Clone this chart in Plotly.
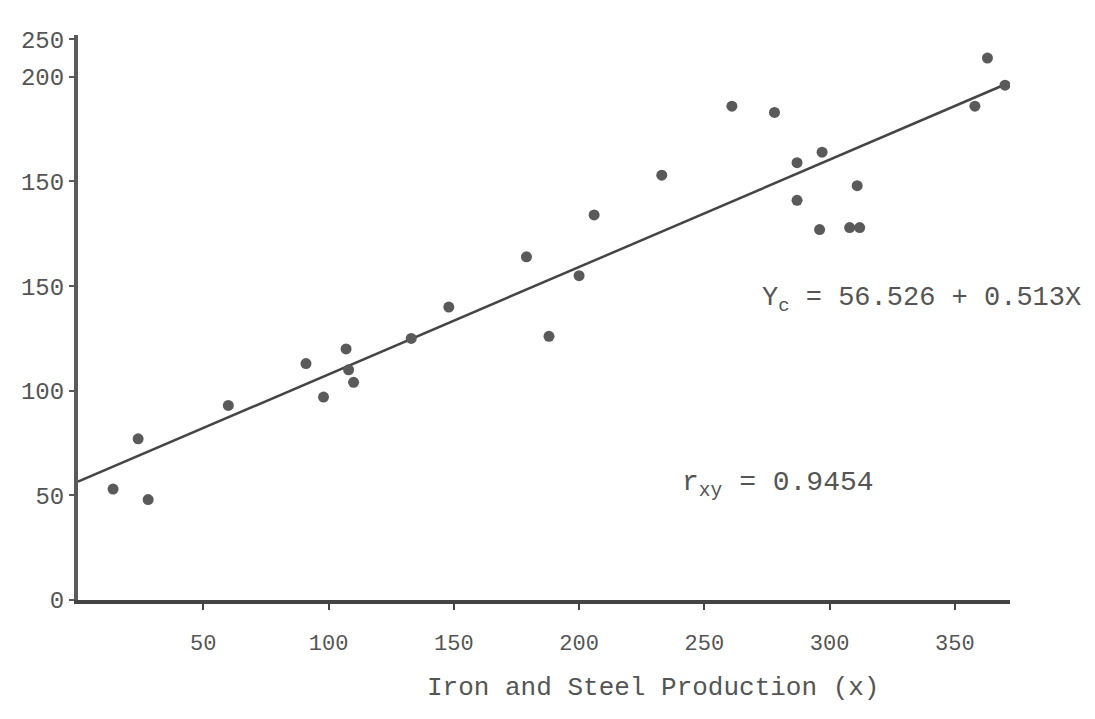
import plotly.graph_objects as go

# Data
x_prod = [14, 24, 28, 60, 91, 98, 107, 108, 110, 133, 148, 179, 188, 200, 206,
          233, 261, 278, 287, 287, 297, 296, 308, 312, 311, 358, 363, 370]
y_vals = [53, 77, 48, 93, 113, 97, 120, 110, 104, 125, 140, 164, 126, 155, 184,
          203, 236, 233, 209, 191, 214, 177, 178, 178, 198, 236, 259, 246]

intercept = 56.526
slope = 0.513
line_x = [0, 370]
line_y = [intercept + slope * v for v in line_x]

x_tickvals = [50, 100, 150, 200, 250, 300, 350]
x_ticktext = ["50", "100", "150", "200", "250", "300", "350"]
y_tickvals = [0, 50, 100, 150, 200, 250, 268]
y_ticktext = ["0", "50", "100", "150", "150", "200", "250"]

MONO = "Liberation Mono, DejaVu Sans Mono, monospace"
GRAY = "#555555"

fig = go.Figure()
fig.add_trace(go.Scatter(x=line_x, y=line_y, mode="lines",
                         line=dict(color="#454545", width=2.5),
                         showlegend=False, hoverinfo="skip"))
fig.add_trace(go.Scatter(x=x_prod, y=y_vals, mode="markers",
                         marker=dict(color="#5a5a5a", size=11),
                         showlegend=False))

fig.update_layout(
    width=1095, height=719,
    margin=dict(l=78, r=85, t=35, b=119),
    paper_bgcolor="white", plot_bgcolor="white",
    font=dict(family=MONO, color=GRAY),
    xaxis=dict(range=[0, 372], showgrid=False, zeroline=False,
               showline=True, linecolor="#444444", linewidth=4,
               ticks="outside", ticklen=6, tickwidth=2, tickcolor="#444444",
               tickvals=x_tickvals, ticktext=x_ticktext,
               tickfont=dict(family=MONO, size=22, color=GRAY),
               ticklabelstandoff=14),
    yaxis=dict(range=[0, 270], showgrid=False, zeroline=False,
               showline=True, linecolor="#5a5a5a", linewidth=4,
               ticks="outside", ticklen=5, tickwidth=2, tickcolor="#5a5a5a",
               tickvals=y_tickvals, ticktext=y_ticktext,
               tickfont=dict(family=MONO, size=24, color=GRAY)),
)

fig.add_annotation(xref="paper", yref="paper", x=0.617, y=-0.156,
                   xanchor="center", yanchor="middle", showarrow=False,
                   text="Iron and Steel Production (x)",
                   font=dict(family=MONO, size=26, color=GRAY))
fig.add_annotation(xref="paper", yref="paper", x=0.732, y=0.531,
                   xanchor="left", yanchor="middle", showarrow=False,
                   text="Y<sub>c</sub> = 56.526 + 0.513X",
                   font=dict(family=MONO, size=27, color=GRAY))
fig.add_annotation(xref="paper", yref="paper", x=0.646, y=0.204,
                   xanchor="left", yanchor="middle", showarrow=False,
                   text="r<sub>xy</sub> = 0.9454",
                   font=dict(family=MONO, size=28, color=GRAY))

fig.write_html("out.html")
